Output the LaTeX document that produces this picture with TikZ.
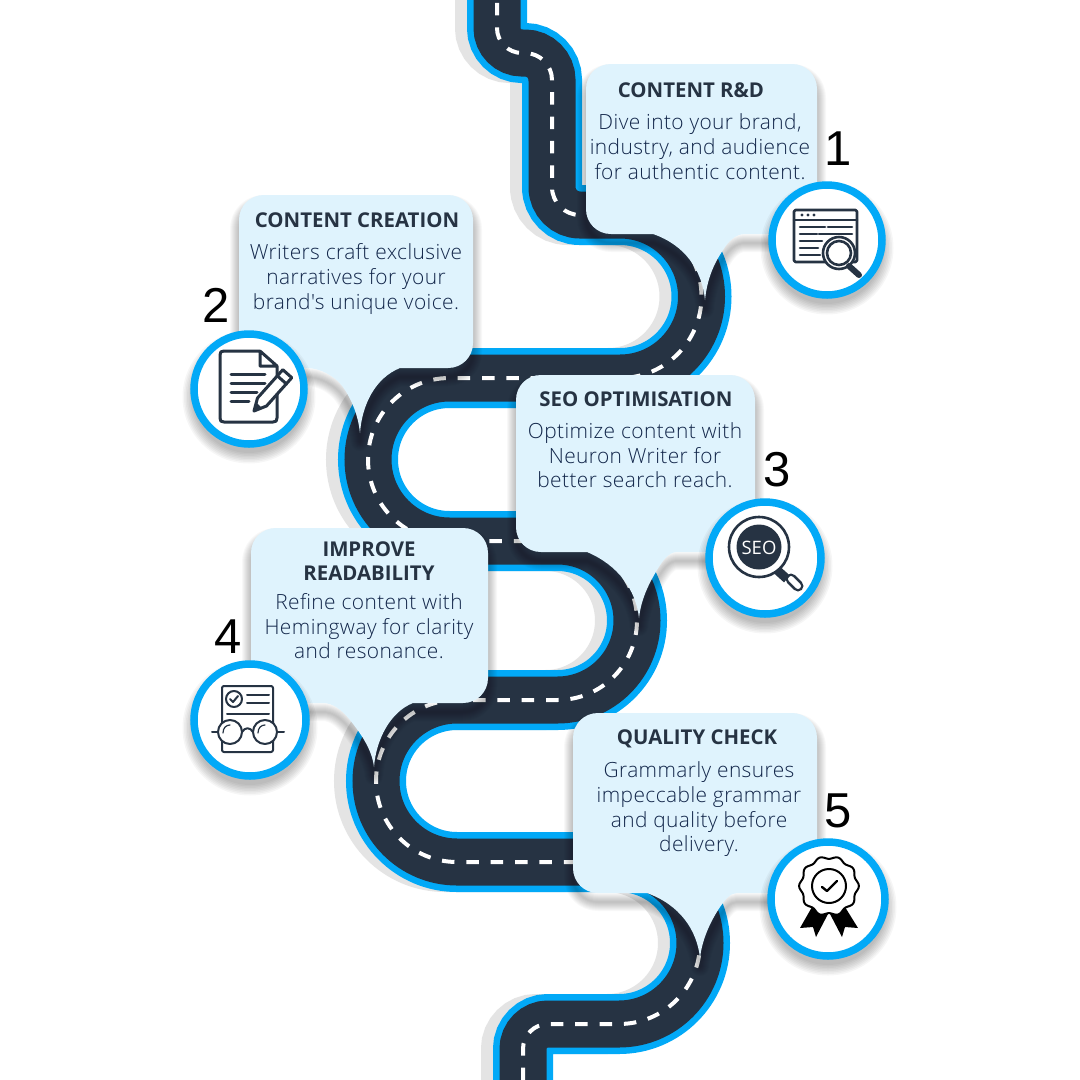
\documentclass[tikz,border=0pt]{standalone}
\usepackage{fontspec}
\setmainfont{Open Sans}
\newfontfamily\bodyfont[LetterSpace=2]{Open Sans Light}
\newfontfamily\numfont{Liberation Sans}
\definecolor{roadblue}{HTML}{02A9F7}
\definecolor{roaddark}{HTML}{263343}
\definecolor{roadshade}{HTML}{E4E4E4}
\definecolor{bubblefill}{HTML}{DFF3FD}
\definecolor{headtext}{HTML}{263343}
\definecolor{bodytext}{HTML}{12264A}
\def\roadpath{(497,-10) -- (497,28) arc[start angle=180,end angle=90,radius=25]
 -- (525,53) arc[start angle=-90,end angle=0,radius=27]
 -- (552,187) arc[start angle=180,end angle=90,radius=28]
 -- (620,215) arc[start angle=-90,end angle=90,radius=81.5]
 -- (449.5,378) arc[start angle=-90,end angle=-270,radius=81.5]
 -- (557.5,541) arc[start angle=-90,end angle=90,radius=79.5]
 -- (457,700) arc[start angle=-90,end angle=-270,radius=81]
 -- (619,862) arc[start angle=-90,end angle=90,radius=81]
 -- (548,1024) arc[start angle=-90,end angle=-180,radius=25]
 -- (523,1090)}
\def\bubA{(611,64) -- (792,64) .. controls (806,64) and (817,75) .. (817,89) -- (817,234) -- (745,234) .. controls (735,234) and (728,242) .. (723,250) .. controls (713,265) and (707,280) .. (705,300) .. controls (702,270) and (685,245) .. (653,234) -- (611,234) .. controls (597,234) and (586,223) .. (586,209) -- (586,89) .. controls (586,75) and (597,64) .. (611,64) -- cycle}
\def\bubB{(264,195) -- (448,195) .. controls (462,195) and (473,206) .. (473,220) -- (473,343) .. controls (473,357) and (462,368) .. (448,368) -- (400,368) .. controls (375,378) and (362,405) .. (360,433) .. controls (358,415) and (352,400) .. (343,387) .. controls (335,376) and (320,368) .. (307,368) -- (239,368) -- (239,220) .. controls (239,206) and (250,195) .. (264,195) -- cycle}
\def\bubC{(541,375) -- (730,375) .. controls (744,375) and (755,386) .. (755,400) -- (755,552) -- (677,552) .. controls (668,552) and (662,562) .. (657,570) .. controls (648,585) and (641,600) .. (639,618) .. controls (636,590) and (618,565) .. (587,552) -- (541,552) .. controls (527,552) and (516,541) .. (516,527) -- (516,400) .. controls (516,386) and (527,375) .. (541,375) -- cycle}
\def\bubD{(276,528) -- (463,528) .. controls (477,528) and (488,539) .. (488,553) -- (488,678) .. controls (488,692) and (477,703) .. (463,703) -- (413,703) .. controls (390,712) and (376,740) .. (374,767) .. controls (372,750) and (362,735) .. (350,720) .. controls (342,710) and (333,703) .. (323,703) -- (251,703) -- (251,553) .. controls (251,539) and (262,528) .. (276,528) -- cycle}
\def\bubE{(598,713) -- (792,713) .. controls (806,713) and (817,724) .. (817,738) -- (817,893) -- (737,893) .. controls (730,893) and (725,900) .. (720,907) .. controls (710,922) and (702,940) .. (700,958) .. controls (697,930) and (680,905) .. (647,893) -- (598,893) .. controls (584,893) and (573,882) .. (573,868) -- (573,738) .. controls (573,724) and (584,713) .. (598,713) -- cycle}
\newcommand\softshadow[1]{\foreach \w in {2,4,6,8,10,12,14,16,18}{\draw[black,opacity=0.028,line width=\w pt,line join=round,shift={(0,9)}] #1;}}
\newcommand\softdisc[3]{\foreach \w in {2,5,8,11,14,17,20,23}{\fill[black,opacity=0.035] (#1,#2+8) circle[radius=#3-4+\w/2];}}
\tikzset{
  headlabel/.style={anchor=base,inner sep=0pt,text=headtext,font=\fontsize{20.4}{24}\selectfont\bfseries},
  bodylabel/.style={anchor=base,inner sep=0pt,text=bodytext,font=\bodyfont\fontsize{20.9}{25}\selectfont},
  numlabel/.style={anchor=base,inner sep=0pt,text=black,font=\numfont\fontsize{49}{49}\selectfont},
  bubble/.style={fill=bubblefill},
  ring/.style={fill=white,draw=roadblue,line width=7.5pt},
  ico/.style={draw=roaddark,line width=2.6pt,line cap=round,line join=round},
  icofine/.style={draw=roaddark,line width=2pt,line cap=round,line join=round},
}
\begin{document}
\begin{tikzpicture}[x=1pt,y=-1pt]
\useasboundingbox (0,0) rectangle (1080,1080);
\fill[white] (0,0) rectangle (1080,1080);
\begin{scope}
\clip (0,0) rectangle (1080,1080);
\draw[roadshade,line width=60pt,shift={(-12,0)}] \roadpath;
\draw[roadblue,line width=60pt] \roadpath;
\draw[roaddark,line width=47pt] \roadpath;
\draw[white,line width=4pt,dash pattern=on 12.5pt off 11.86pt,dash phase=11.4pt] \roadpath;
\end{scope}

% callout 1
\softshadow{\bubA}
\fill[bubble] \bubA;
\softdisc{827}{240}{59}
\node[ring,circle,minimum size=110pt,inner sep=0pt] (c1) at (827,240) {};
\node[headlabel] (h1) at (691,97) {CONTENT R\&D};
\node[bodylabel] (b1a) at (700,129) {Dive into your brand,};
\node[bodylabel] (b1b) at (700,154) {industry, and audience};
\node[bodylabel] (b1c) at (700,179) {for authentic content.};
\node[numlabel] (n1) at (838,165) {1};
\draw[ico,rounded corners=1.5pt] (794,210) rectangle (857,262);
\draw[ico] (794,220) -- (857,220);
\fill[roaddark] (802,215) circle[radius=1.6] (808,215) circle[radius=1.6] (814,215) circle[radius=1.6];
\draw[ico] (800,227) -- (825,227) (828,227) -- (852,227) (800,234) -- (817,234) (819,234) -- (852,234) (800,241) -- (822,241) (800,248) -- (818,248) (800,255) -- (820,255);
\fill[white] (839,253) circle[radius=16];
\draw[ico] (839,253) circle[radius=16] (839,253) circle[radius=12];
\draw[roaddark,line width=6pt,line cap=round] (849,266) -- (859,275);

% callout 2
\softshadow{\bubB}
\fill[bubble] \bubB;
\softdisc{249}{389}{59}
\node[ring,circle,minimum size=110pt,inner sep=0pt] (c2) at (249,389) {};
\node[headlabel] (h2) at (357,227) {CONTENT CREATION};
\node[bodylabel] (b2a) at (356,259) {Writers craft exclusive};
\node[bodylabel] (b2b) at (356,284) {narratives for your};
\node[bodylabel] (b2c) at (356,309) {brand's unique voice.};
\node[numlabel] (n2) at (216,322) {2};
\draw[ico,line width=3pt] (260,351) -- (224,351) .. controls (221,351) and (220,352) .. (220,355) -- (220,418) .. controls (220,421) and (221,422) .. (224,422) -- (273,422) .. controls (276,422) and (277,421) .. (277,418) -- (277,366) -- (260,351) -- (260,366) -- (277,366);
\draw[ico,line width=3pt] (231,374) -- (265,374) (231,383) -- (265,383) (231,392) -- (257,392) (231,401) -- (249,401);
\fill[white] (254,411) -- (266.5,406) -- (291.8,377.7) -- (282.8,369.7) -- (257.5,398) -- cycle;
\draw[ico,line width=3pt] (254,411) -- (266.5,406) -- (291.8,377.7) -- (282.8,369.7) -- (257.5,398) -- cycle;
\draw[ico,line width=3pt] (286.5,384) -- (277.5,376);
\fill[roaddark] (254,411) -- (262,408) -- (256,402) -- cycle;

% callout 3
\softshadow{\bubC}
\fill[bubble] \bubC;
\softdisc{765}{558}{60}
\node[ring,circle,minimum size=112pt,inner sep=0pt] (c3) at (765,558) {};
\node[headlabel] (h3) at (636,406) {SEO OPTIMISATION};
\node[bodylabel] (b3a) at (635,438) {Optimize content with};
\node[bodylabel] (b3b) at (635,463) {Neuron Writer for};
\node[bodylabel] (b3c) at (635,487) {better search reach.};
\node[numlabel] (n3) at (777,486) {3};
\draw[ico] (759,547) circle[radius=30];
\fill[roaddark] (759,547) circle[radius=22.5];
\node[anchor=center,inner sep=0pt,text=white,font=\fontsize{18.5}{18}\selectfont] (seo) at (759,548) {SEO};
\draw[roaddark,line width=11pt,line cap=round] (791,579) -- (798,586);
\draw[white,line width=6pt,line cap=round] (791,579) -- (798,586);
\draw[roaddark,line width=9pt] (777,570) -- (787,579);

% callout 4
\softshadow{\bubD}
\fill[bubble] \bubD;
\softdisc{250}{720}{60}
\node[ring,circle,minimum size=112pt,inner sep=0pt] (c4) at (250,720) {};
\node[headlabel] (h4a) at (369,556) {IMPROVE};
\node[headlabel] (h4b) at (369,580) {READABILITY};
\node[bodylabel] (b4a) at (369,609) {Refine content with};
\node[bodylabel] (b4b) at (369,634) {Hemingway for clarity};
\node[bodylabel] (b4c) at (369,658) {and resonance.};
\node[numlabel] (n4) at (228,653) {4};
\draw[icofine,rounded corners=2pt] (222,686) rectangle (273,752);
\draw[icofine] (234,699) circle[radius=8];
\draw[icofine] (230,699) -- (233,702) -- (238,696);
\draw[icofine] (247,695) -- (269,695) (247,703) -- (269,703) (227,714) -- (269,714);
\fill[white] (230,732) circle[radius=12] (265,732) circle[radius=12];
\draw[icofine] (230,732) circle[radius=12] (265,732) circle[radius=12];
\draw[icofine] (212,732) -- (218,732) (277,732) -- (284,732);
\draw[icofine] (242,732) .. controls (245,727) and (250,727) .. (253,732);
\draw[roaddark,line width=1.2pt,line cap=round] (223,733) .. controls (223,728) and (226,725) .. (230,725) (258,733) .. controls (258,728) and (261,725) .. (265,725);

% callout 5
\softshadow{\bubE}
\fill[bubble] \bubE;
\softdisc{828}{899}{61}
\node[ring,circle,minimum size=114pt,inner sep=0pt] (c5) at (828,899) {};
\node[headlabel] (h5) at (697,744) {QUALITY CHECK};
\node[bodylabel] (b5a) at (699,777) {Grammarly ensures};
\node[bodylabel] (b5b) at (699,802) {impeccable grammar};
\node[bodylabel] (b5c) at (699,827) {and quality before};
\node[bodylabel] (b5d) at (699,851) {delivery.};
\node[numlabel] (n5) at (838,827) {5};
\fill[black] (812,907) -- (800,928) -- (813,927) -- (816,937) -- (828,914) -- cycle;
\fill[black] (845,907) -- (858,928) -- (845,927) -- (842,937) -- (830,914) -- cycle;
\draw[black,fill=white,line width=2pt,line join=round] plot[smooth cycle,domain=0:356,samples=90,variable=\t] ({829+(28.5+1.4*cos(10*\t))*cos(\t)},{886+(28.5+1.4*cos(10*\t))*sin(\t)});
\draw[black,line width=2pt] (829,886) circle[radius=17];
\draw[black,line width=2.4pt,line cap=round,line join=round] (822,887) -- (827,891) -- (837,881);
\end{tikzpicture}
\end{document}
